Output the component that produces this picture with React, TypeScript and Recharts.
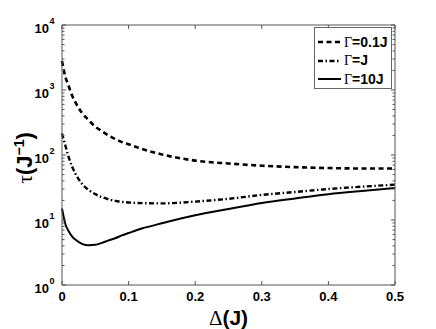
import { LineChart, Line, XAxis, YAxis, Legend } from "recharts";

// Δ values (in units of J) where the curves were read
const deltaValues = [
  0, 0.005, 0.01, 0.015, 0.02, 0.03, 0.04, 0.05, 0.06, 0.07, 0.08, 0.09, 0.1,
  0.12, 0.15, 0.2, 0.25, 0.3, 0.35, 0.4, 0.45, 0.5,
];
// τ for Γ = 0.1J (dashed)
const tauGamma01 = [
  2800, 1600, 1150, 830, 650, 445, 345, 272, 232, 199, 176, 158, 146, 124, 102,
  82, 74, 68.5, 65, 63, 62, 62,
];
// τ for Γ = J (dash-dot)
const tauGamma1 = [
  214, 140, 93, 67, 52, 36, 29, 25, 22.5, 20.8, 19.7, 19.0, 18.6, 18.2, 18.0,
  19.2, 21.2, 24.3, 27, 30, 32.5, 35,
];
// τ for Γ = 10J (solid)
const tauGamma10 = [
  15, 8.7, 6.7, 5.6, 5.0, 4.3, 4.08, 4.15, 4.45, 4.85, 5.25, 5.8, 6.3, 7.4, 8.9,
  11.8, 14.8, 18.3, 21.5, 25, 28, 31,
];

const xTicks = [0, 0.1, 0.2, 0.3, 0.4, 0.5];
const xTickLabels = ["0", "0.1", "0.2", "0.3", "0.4", "0.5"];
const yMajor = [1, 10, 100, 1000, 10000];
const yExponents = ["0", "1", "2", "3", "4"];
const yMinor = [
  2, 3, 4, 5, 6, 7, 8, 9, 20, 30, 40, 50, 60, 70, 80, 90, 200, 300, 400, 500,
  600, 700, 800, 900, 2000, 3000, 4000, 5000, 6000, 7000, 8000, 9000,
];
const legendLabels = ["=0.1J", "=J", "=10J"];

const data = deltaValues.map((d, i) => ({
  d,
  g01: tauGamma01[i],
  g1: tauGamma1[i],
  g10: tauGamma10[i],
}));

const yTicks = [...yMajor, ...yMinor].sort((a, b) => a - b);

const AXIS = "#555";
const SANS = "'Liberation Sans', Arial, Helvetica, sans-serif";
const SERIF = "'Liberation Serif', 'Times New Roman', serif";

const lineStyles = [
  { key: "g01", dash: "5 3.5", width: 2.6 },
  { key: "g1", dash: "5 2.5 1.5 2.5", width: 2.4 },
  { key: "g10", dash: undefined, width: 2 },
];

function YTickLeft(props: any) {
  const { x, y, payload } = props;
  const idx = yMajor.indexOf(payload.value);
  const major = idx >= 0;
  return (
    <g>
      <line x1={x} x2={x + (major ? 4 : 2.5)} y1={y} y2={y} stroke={AXIS} />
      {major && (
        <text fontFamily={SANS} fontWeight="bold" fill="#000">
          <tspan x={x - 13} y={y + 8} textAnchor="end" fontSize={13}>
            10
          </tspan>
          <tspan x={x - 12.5} y={y - 1} fontSize={9}>
            {yExponents[idx]}
          </tspan>
        </text>
      )}
    </g>
  );
}

function YTickRight(props: any) {
  const { x, y, payload } = props;
  const major = yMajor.includes(payload.value);
  return <line x1={x} x2={x - (major ? 4 : 2.5)} y1={y} y2={y} stroke={AXIS} />;
}

function XTickBottom(props: any) {
  const { x, y, payload } = props;
  const idx = xTicks.indexOf(payload.value);
  return (
    <g>
      <line x1={x} x2={x} y1={y} y2={y - 4} stroke={AXIS} />
      <text
        x={x}
        y={y + 16}
        textAnchor="middle"
        fontFamily={SANS}
        fontWeight="bold"
        fontSize={13}
        fill="#000"
      >
        {xTickLabels[idx]}
      </text>
    </g>
  );
}

function XTickTop(props: any) {
  const { x, y } = props;
  return <line x1={x} x2={x} y1={y} y2={y + 4} stroke={AXIS} />;
}

function XLabel(props: any) {
  const { viewBox } = props;
  const cx = viewBox.x + viewBox.width / 2;
  return (
    <text
      x={cx}
      y={viewBox.y + 40}
      textAnchor="middle"
      fontSize={21}
      fill="#000"
    >
      <tspan fontFamily={SERIF}>Δ</tspan>
      <tspan fontFamily={SANS} fontWeight="bold">
        (J)
      </tspan>
    </text>
  );
}

function YLabel() {
  const x = 24;
  const y = 150;
  return (
    <text
      x={x}
      y={y}
      textAnchor="middle"
      transform={`rotate(-90, ${x}, ${y})`}
      fontSize={22}
      fill="#000"
    >
      <tspan fontFamily={SERIF}>τ</tspan>
      <tspan fontFamily={SANS} fontWeight="bold">
        (J
      </tspan>
      <tspan fontFamily={SANS} fontWeight="bold" fontSize={14} dy={-8}>
        −1
      </tspan>
      <tspan fontFamily={SANS} fontWeight="bold" dy={8}>
        )
      </tspan>
    </text>
  );
}

function LegendBox() {
  return (
    <div
      style={{
        width: 78,
        height: 62,
        border: "1px solid #666",
        background: "#fff",
        paddingTop: 5,
        boxSizing: "border-box",
      }}
    >
      {lineStyles.map((s, i) => (
        <div
          key={s.key}
          style={{ display: "flex", alignItems: "center", height: 18.5 }}
        >
          <svg width={29} height={10} style={{ display: "block" }}>
            <line
              x1={3}
              x2={26}
              y1={5}
              y2={5}
              stroke="#000"
              strokeWidth={s.width}
              strokeDasharray={s.dash}
            />
          </svg>
          <span style={{ fontSize: 14, color: "#000", whiteSpace: "nowrap" }}>
            <span style={{ fontFamily: SERIF }}>Γ</span>
            <span style={{ fontFamily: SANS, fontWeight: "bold" }}>
              {legendLabels[i]}
            </span>
          </span>
        </div>
      ))}
    </div>
  );
}

export default function App() {
  return (
    <div style={{ width: 428, height: 321 }}>
      <LineChart
        width={428}
        height={321}
        data={data}
        margin={{ top: 16, right: 40, bottom: 0, left: 0 }}
      >
        <XAxis
          dataKey="d"
          type="number"
          domain={[0, 0.5]}
          ticks={xTicks}
          interval={0}
          height={44}
          tickSize={0}
          tickMargin={0}
          tickLine={false}
          axisLine={{ stroke: AXIS }}
          tick={<XTickBottom />}
          label={<XLabel />}
        />
        <XAxis
          xAxisId="top"
          orientation="top"
          dataKey="d"
          type="number"
          domain={[0, 0.5]}
          ticks={xTicks}
          interval={0}
          height={1}
          tickSize={0}
          tickMargin={0}
          tickLine={false}
          axisLine={{ stroke: AXIS }}
          tick={<XTickTop />}
        />
        <YAxis
          type="number"
          scale="log"
          domain={[1, 10000]}
          allowDataOverflow
          ticks={yTicks}
          interval={0}
          width={54}
          tickSize={0}
          tickMargin={0}
          tickLine={false}
          axisLine={{ stroke: AXIS }}
          tick={<YTickLeft />}
        />
        <YAxis
          yAxisId="right"
          orientation="right"
          type="number"
          scale="log"
          domain={[1, 10000]}
          allowDataOverflow
          ticks={yTicks}
          interval={0}
          width={1}
          tickSize={0}
          tickMargin={0}
          tickLine={false}
          axisLine={{ stroke: AXIS }}
          tick={<YTickRight />}
        />
        <Legend
          layout="vertical"
          align="center"
          verticalAlign="middle"
          content={<LegendBox />}
          wrapperStyle={{ position: "absolute", left: 306, top: 19, width: 78 }}
        />
        {lineStyles.map((s) => (
          <Line
            key={s.key}
            dataKey={s.key}
            type="monotone"
            stroke="#000"
            strokeWidth={s.width}
            strokeDasharray={s.dash}
            dot={false}
            activeDot={false}
            isAnimationActive={false}
          />
        ))}
        <YLabel />
      </LineChart>
    </div>
  );
}
